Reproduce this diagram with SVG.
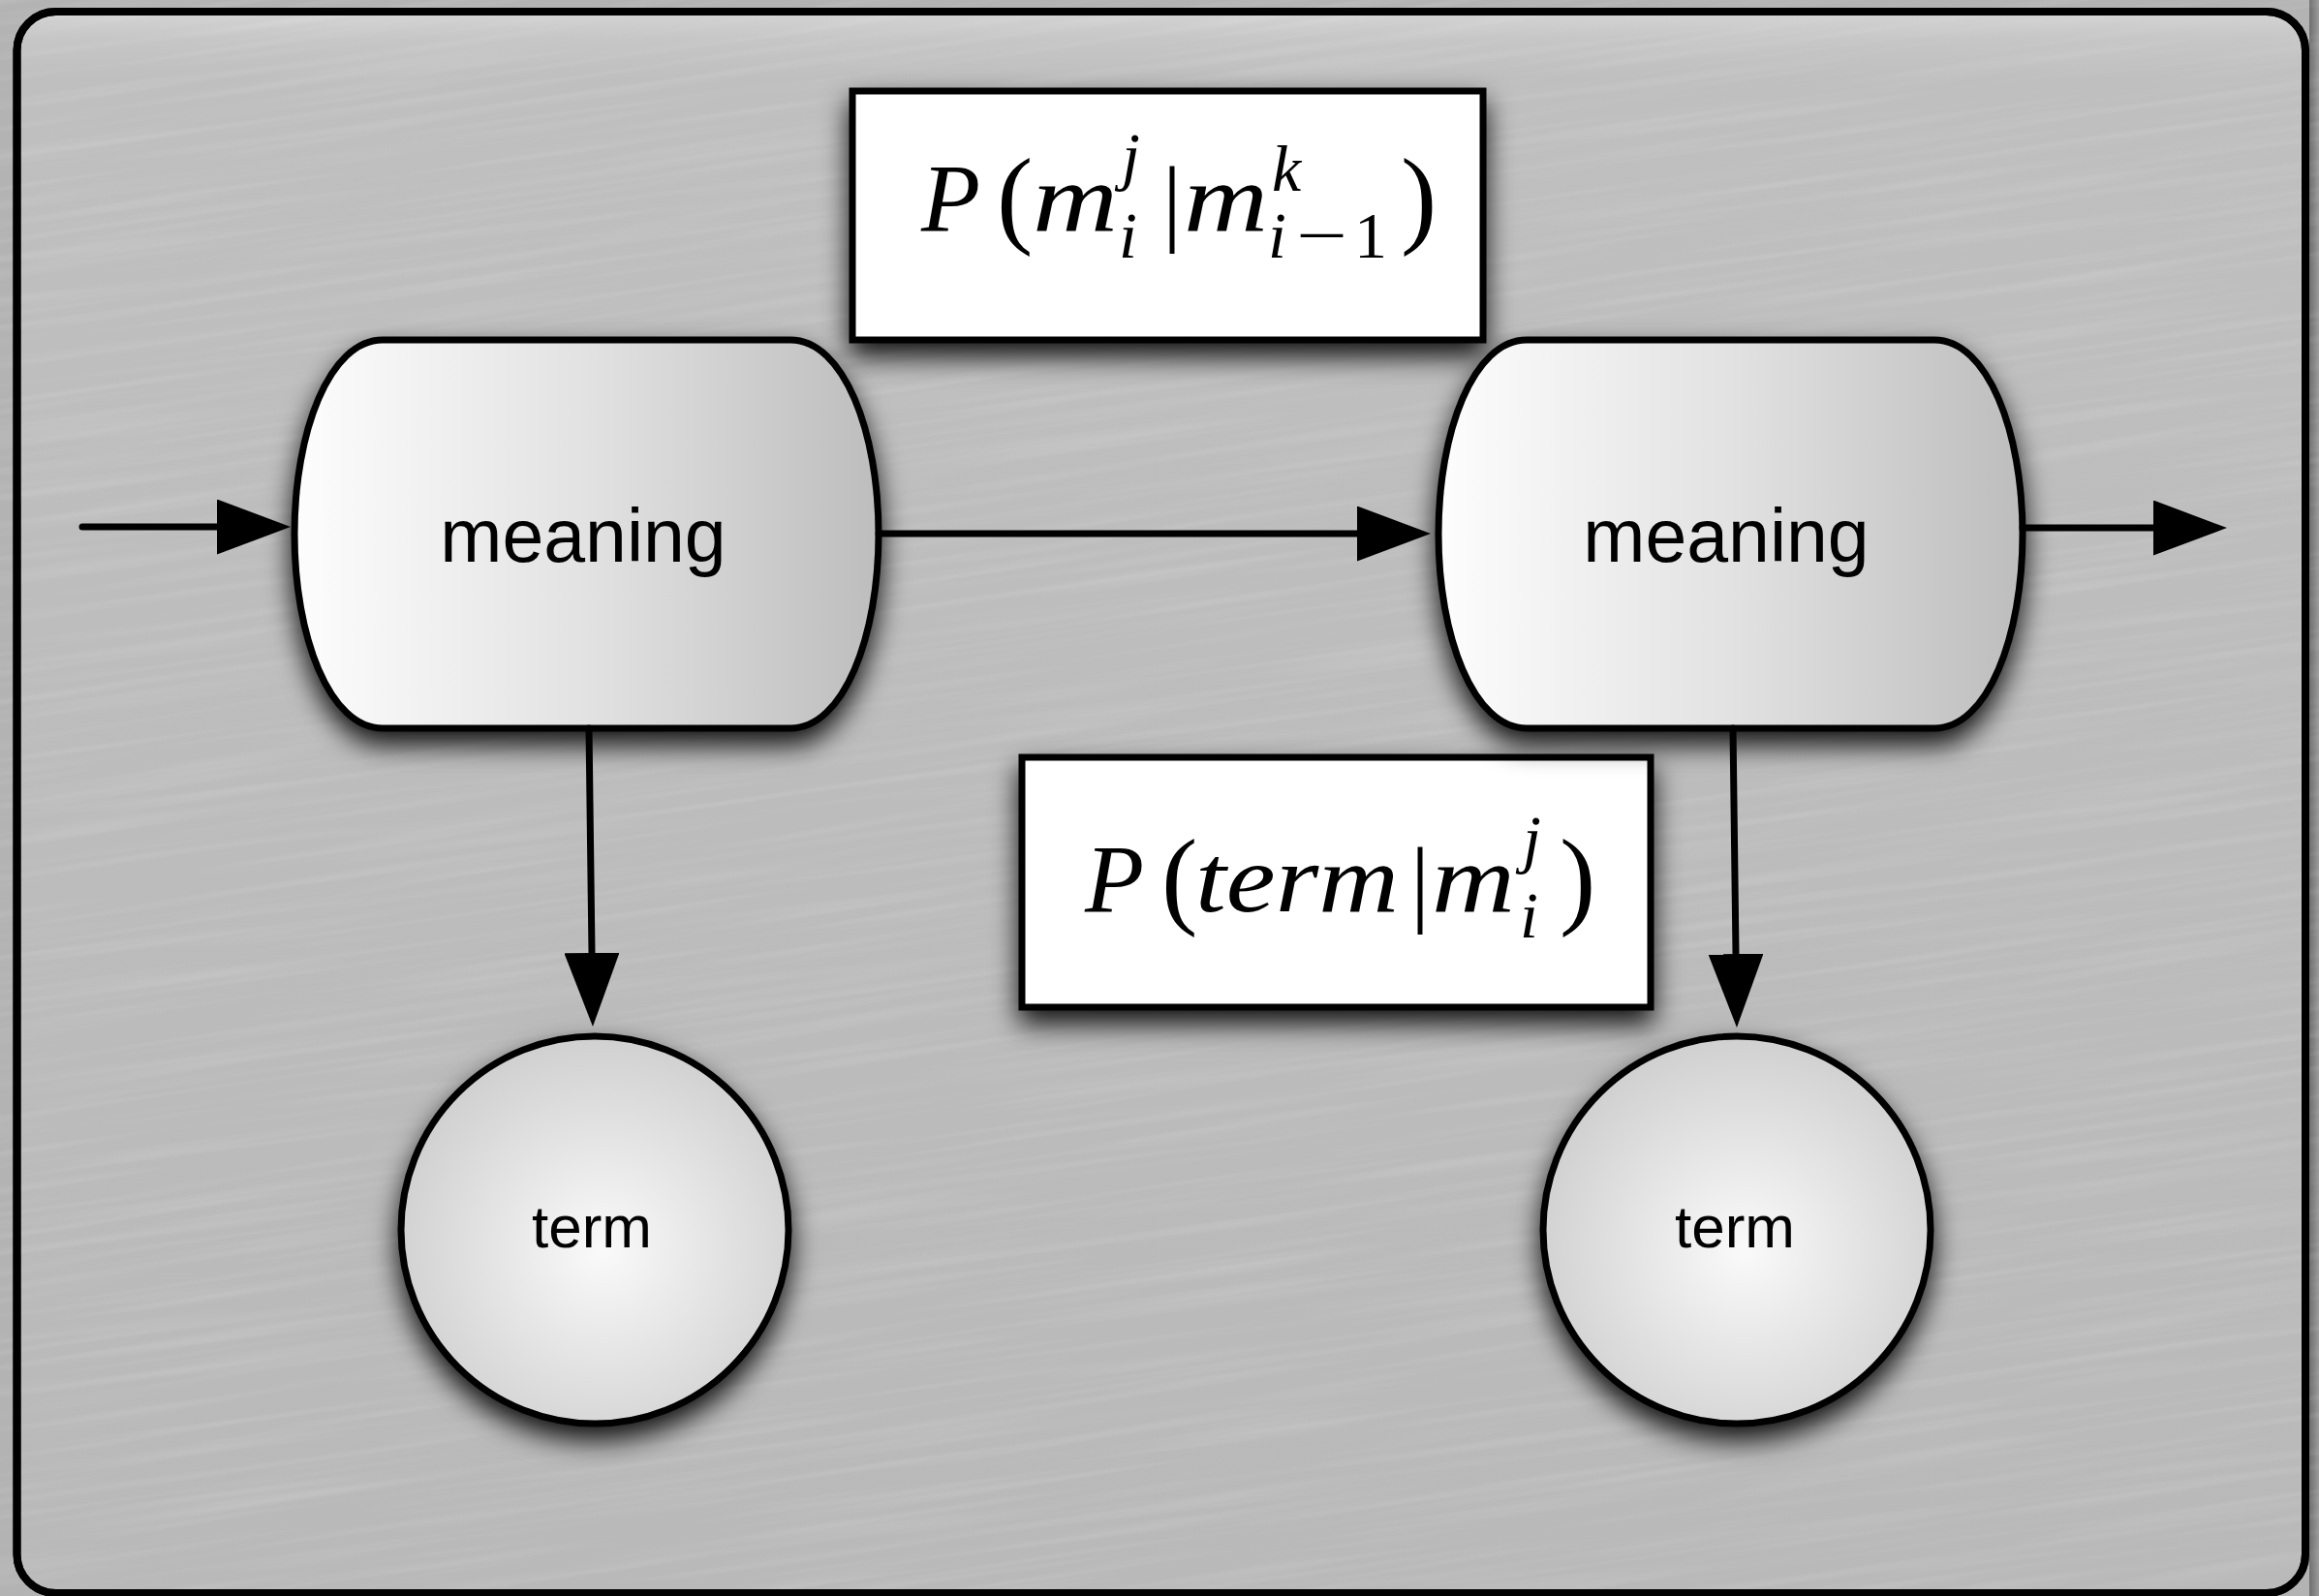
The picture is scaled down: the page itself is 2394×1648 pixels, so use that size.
<svg xmlns="http://www.w3.org/2000/svg" width="2394" height="1648" viewBox="0 0 2394 1648">
  <style>
    .node { stroke: #000; stroke-width: 7; }
    .lbl { font-family: "Liberation Sans", Arial, Helvetica, sans-serif; fill: #000; text-anchor: middle; }
    .mi { font-family: "Liberation Serif", "Times New Roman", serif; font-style: italic; fill: #000; }
    .mr { font-family: "Liberation Serif", "Times New Roman", serif; font-style: normal; fill: #000; }
    .conn { stroke: #000; stroke-width: 7; fill: none; stroke-linecap: round; }
  </style>
  <defs>
    <linearGradient id="panel" gradientUnits="userSpaceOnUse" x1="0" y1="16" x2="0" y2="1645">
      <stop offset="0" stop-color="#d2d2d2"/>
      <stop offset="0.015" stop-color="#c6c6c6"/>
      <stop offset="0.04" stop-color="#bfbfbf"/>
      <stop offset="1" stop-color="#b9b9b9"/>
    </linearGradient>
    <linearGradient id="meaningFill" x1="0" y1="0" x2="1" y2="0">
      <stop offset="0" stop-color="#fdfdfd"/>
      <stop offset="0.5" stop-color="#e2e2e2"/>
      <stop offset="1" stop-color="#bdbdbd"/>
    </linearGradient>
    <radialGradient id="termFill" cx="0.52" cy="0.55" r="0.55">
      <stop offset="0" stop-color="#fafafa"/>
      <stop offset="1" stop-color="#d0d0d0"/>
    </radialGradient>
    <linearGradient id="rightStrip" x1="0" y1="0" x2="1" y2="0">
      <stop offset="0" stop-color="#6e6e6e"/>
      <stop offset="1" stop-color="#9a9a9a"/>
    </linearGradient>
    <filter id="shadow" x="-20%" y="-20%" width="140%" height="150%">
      <feDropShadow dx="0" dy="14" stdDeviation="14" flood-color="#000" flood-opacity="0.9"/>
    </filter>
    <filter id="brush" x="0" y="0" width="100%" height="100%">
      <feTurbulence type="fractalNoise" baseFrequency="0.003 0.11" numOctaves="2" seed="5"/>
      <feColorMatrix type="matrix" values="0 0 0 0 1  0 0 0 0 1  0 0 0 0 1  1.4 0 0 0 -0.62"/>
    </filter>
    <marker id="ah" markerUnits="userSpaceOnUse" viewBox="0 0 76 57" markerWidth="76" markerHeight="57" refX="0" refY="28.5" orient="auto">
      <path d="M0 0 L76 28.5 L0 57 Z" fill="#000"/>
    </marker>
  </defs>

  <!-- background -->
  <rect x="0" y="0" width="2394" height="1648" fill="#b3b3b3"/>
  <rect x="2384" y="0" width="10" height="1648" fill="url(#rightStrip)"/>
  <rect x="17.5" y="12" width="2362.5" height="1633" rx="40" fill="url(#panel)" stroke="#000" stroke-width="8"/>
  <g opacity="0.18">
    <rect x="-300" y="-500" width="3000" height="2700" transform="rotate(-8 1197 824)" filter="url(#brush)"/>
  </g>
  <rect x="17.5" y="12" width="2362.5" height="1633" rx="40" fill="none" stroke="#000" stroke-width="8"/>

  <!-- formula box 1 -->
  <g id="formula-transition">
    <rect class="node" x="880" y="94" width="651" height="257" fill="#fff" filter="url(#shadow)"/>
    <text class="mi" x="951" y="238" font-size="100">P</text>
    <text class="mr" x="1029" y="241" font-size="112">(</text>
    <text class="mi" x="1066" y="238" font-size="100" textLength="88" lengthAdjust="spacingAndGlyphs">m</text>
    <text class="mi" x="1158" y="184" font-size="68">j</text>
    <text class="mi" x="1155" y="266" font-size="68">i</text>
    <text class="mr" x="1200" y="241" font-size="100">|</text>
    <text class="mi" x="1222" y="238" font-size="100" textLength="87" lengthAdjust="spacingAndGlyphs">m</text>
    <text class="mi" x="1313" y="197" font-size="68">k</text>
    <text class="mi" x="1309" y="266" font-size="68">i</text>
    <text class="mr" x="1338" y="266" font-size="68" textLength="53" lengthAdjust="spacingAndGlyphs">−</text>
    <text class="mr" x="1398" y="266" font-size="68">1</text>
    <text class="mr" x="1446" y="241" font-size="112">)</text>
  </g>

  <!-- meaning 1 -->
  <g id="meaning-1">
    <path class="node" fill="url(#meaningFill)" filter="url(#shadow)" d="M395 351 H816 C871 351 907 446 907 551.5 C907 657 871 752 816 752 H395 C340 752 304 657 304 551.5 C304 446 340 351 395 351 Z"/>
    <text class="lbl" x="602" y="580" font-size="77">meaning</text>
  </g>

  <!-- formula box 2 -->
  <g id="formula-emission">
    <rect class="node" x="1055" y="782" width="649" height="258" fill="#fff" filter="url(#shadow)"/>
    <text class="mi" x="1120" y="941" font-size="100">P</text>
    <text class="mr" x="1199" y="944" font-size="112">(</text>
    <text class="mi" x="1234" y="941" font-size="100" textLength="210" lengthAdjust="spacingAndGlyphs">term</text>
    <text class="mr" x="1456" y="944" font-size="100">|</text>
    <text class="mi" x="1478" y="941" font-size="100" textLength="86" lengthAdjust="spacingAndGlyphs">m</text>
    <text class="mi" x="1572" y="889" font-size="68">j</text>
    <text class="mi" x="1569" y="968" font-size="68">i</text>
    <text class="mr" x="1610" y="944" font-size="112">)</text>
  </g>

  <!-- meaning 2 -->
  <g id="meaning-2">
    <path class="node" fill="url(#meaningFill)" filter="url(#shadow)" d="M1576 351 H1997 C2052 351 2088 446 2088 551.5 C2088 657 2052 752 1997 752 H1576 C1521 752 1485 657 1485 551.5 C1485 446 1521 351 1576 351 Z"/>
    <text class="lbl" x="1782" y="580" font-size="77">meaning</text>
  </g>

  <!-- term 1 -->
  <g id="term-1">
    <circle class="node" cx="614" cy="1270" r="200" fill="url(#termFill)" filter="url(#shadow)"/>
    <text class="lbl" x="611" y="1288" font-size="62">term</text>
  </g>

  <!-- term 2 -->
  <g id="term-2">
    <circle class="node" cx="1793" cy="1270" r="200" fill="url(#termFill)" filter="url(#shadow)"/>
    <text class="lbl" x="1791" y="1288" font-size="62">term</text>
  </g>

  <!-- connectors -->
  <g id="connectors">
    <line class="conn" x1="85" y1="544" x2="224" y2="544" marker-end="url(#ah)"/>
    <line class="conn" x1="907" y1="551" x2="1401" y2="551" marker-end="url(#ah)"/>
    <line class="conn" x1="2088" y1="545" x2="2223" y2="545" marker-end="url(#ah)"/>
    <line class="conn" x1="608" y1="752" x2="611" y2="984" marker-end="url(#ah)"/>
    <line class="conn" x1="1789" y1="752" x2="1792" y2="985" marker-end="url(#ah)"/>
  </g>
</svg>
